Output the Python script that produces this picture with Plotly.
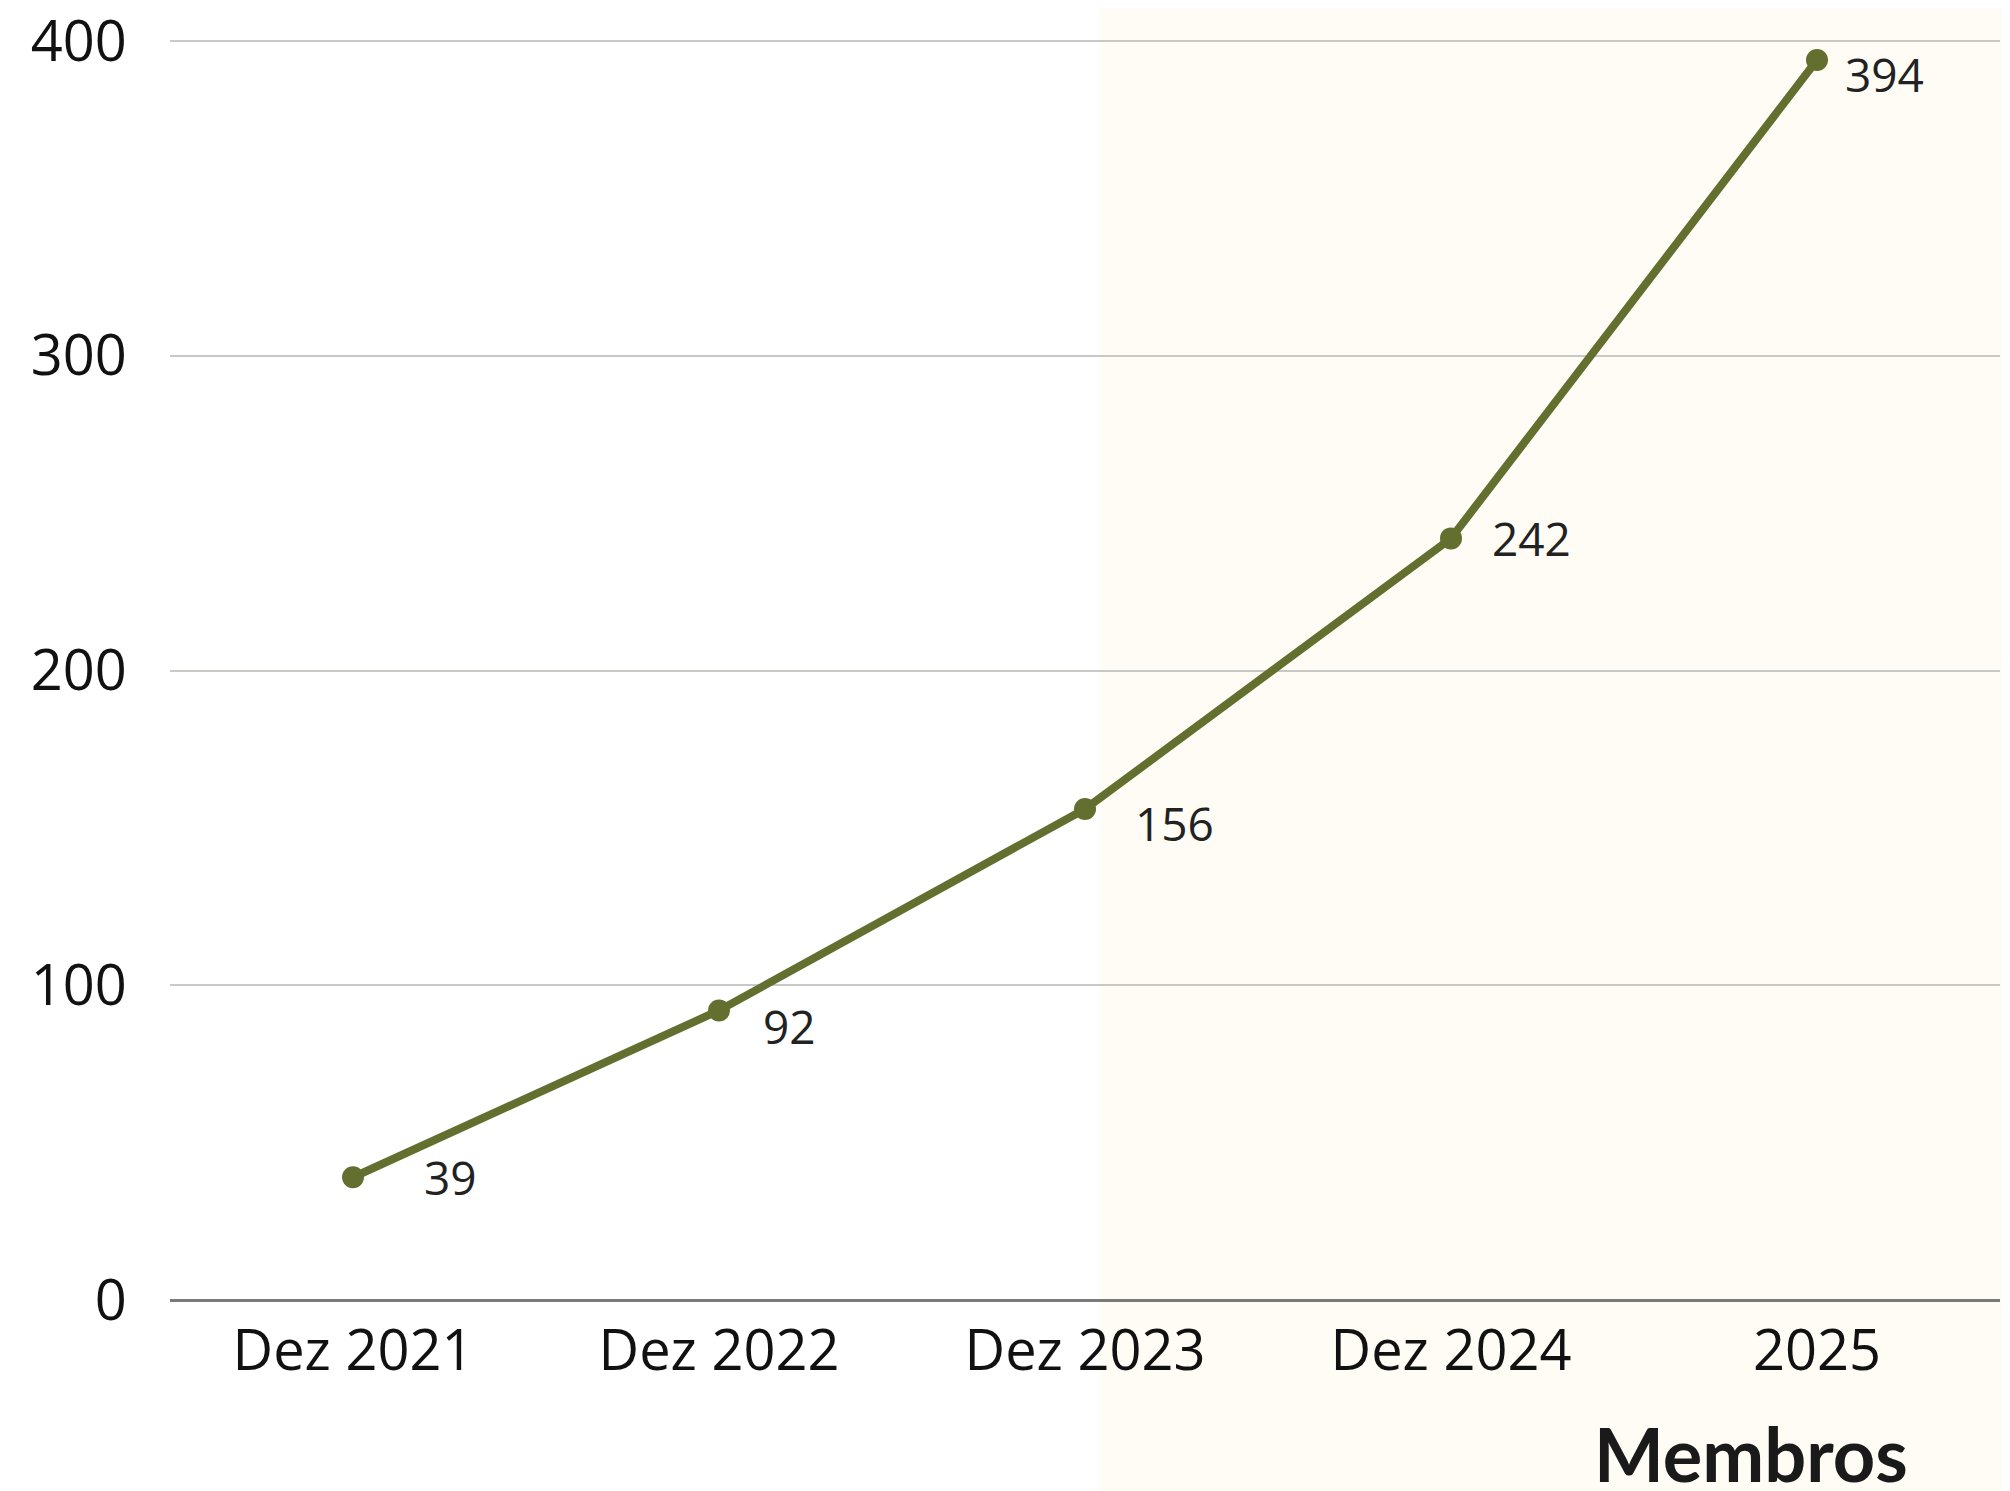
import plotly.graph_objects as go

categories = ["Dez 2021", "Dez 2022", "Dez 2023", "Dez 2024", "2025"]
membros = [39, 92, 156, 242, 394]
y_ticks = [0, 100, 200, 300, 400]
series_name = "Membros"

# label offsets (px) – styling only
label_dx = [69, 42, 48, 39, 26]
label_dy = [0, -16, -14, 0, -14]

LINE = "#636f2f"

fig = go.Figure()
fig.add_trace(go.Scatter(
    x=categories, y=membros, mode="lines+markers",
    line=dict(color=LINE, width=8),
    marker=dict(color=LINE, size=22),
    cliponaxis=False, showlegend=False, name=series_name,
))

# category index positions (so that "2025" isn't read as a number)
for i, (v, dx, dy) in enumerate(zip(membros, label_dx, label_dy)):
    fig.add_annotation(x=i, y=v, text=str(v), showarrow=False,
                       xanchor="left", yanchor="middle", xshift=dx, yshift=dy,
                       font=dict(family="Open Sans", size=46, color="#222222"))

fig.add_annotation(xref="paper", yref="paper", x=0.864, y=-0.1215,
                   text=f"<b>{series_name}</b>", showarrow=False,
                   xanchor="center", yanchor="middle",
                   font=dict(family="Lato", size=74, color="#1a1a1a"))

fig.add_shape(type="rect", xref="paper", yref="paper",
              x0=0.5077, x1=1.2, y0=-0.4, y1=1.2,
              fillcolor="#fefcf5", line=dict(width=0), layer="below")

fig.update_layout(
    width=2002, height=1483,
    margin=dict(l=162, r=10, t=30, b=191, autoexpand=False),
    paper_bgcolor="#ffffff", plot_bgcolor="rgba(0,0,0,0)",
    font=dict(family="Open Sans", size=56, color="#111111"),
)
fig.update_xaxes(type="category", range=[-0.5, 4.5], showgrid=False,
                 showline=False, zeroline=False, automargin=False,
                 ticks="outside", ticklen=2, tickcolor="rgba(0,0,0,0)",
                 tickfont=dict(family="Open Sans", size=56, color="#111111"))
fig.update_yaxes(range=[0, 401], tickvals=y_ticks, showgrid=True,
                 gridcolor="#c8c8c5", gridwidth=2,
                 zeroline=True, zerolinecolor="#7a7a7a", zerolinewidth=3,
                 showline=False, ticklabeloverflow="allow", automargin=False,
                 ticks="outside", ticklen=31, tickcolor="rgba(0,0,0,0)",
                 tickfont=dict(family="Open Sans", size=56, color="#111111"))

fig.write_html("out.html")
